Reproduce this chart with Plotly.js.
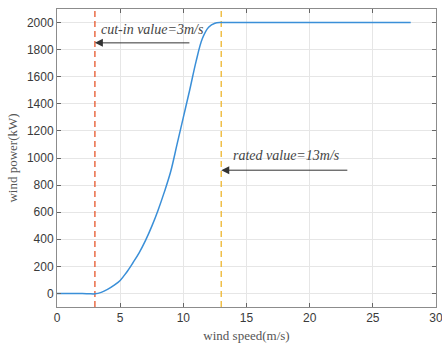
<!DOCTYPE html>
<html><head><meta charset="utf-8">
<script src="https://cdn.plot.ly/plotly-3.0.1.min.js"></script>
<style>html,body{margin:0;padding:0;background:#fff}#chart{width:442px;height:344px}</style>
</head><body><div id="chart"></div>
<script>
const windSpeed = [0,1,2,2.5,3,3.5,4,4.5,5,5.5,6,6.5,7,7.5,8,8.5,9,9.5,10,10.5,11,11.5,12,12.5,13,14,16,18,20,22,24,26,28];
const windPower = [0,0,-1,-2,-3,8,30,60,96,155,225,300,390,495,615,750,900,1100,1300,1500,1710,1880,1965,1995,2000,2000,2000,2000,2000,2000,2000,2000,2000];
const cutIn = 3, rated = 13;
const yLimits = [-100, 2100];
const xTicks = [0,5,10,15,20,25,30];
const yTicks = [0,200,400,600,800,1000,1200,1400,1600,1800,2000];
const cutInLabel = 'cut-in value=3m/s';
const ratedLabel = 'rated value=13m/s';
const cutInArrow = {fromX: 10.6, toX: 3, y: 1850, textX: 3.35, textY: 1950};
const ratedArrow = {fromX: 23.1, toX: 13, y: 910, textX: 13.8, textY: 1020};

const axisCommon = {
  showgrid: true, gridcolor: '#e6e6e6', gridwidth: 1,
  zeroline: false, showline: true, linecolor: '#8c8c8c', linewidth: 1, mirror: 'ticks',
  ticks: 'inside', ticklen: 4, tickcolor: '#666',
  ticklabeloverflow: 'allow',
  tickfont: {family: 'Liberation Sans, Arial, sans-serif', size: 12, color: '#3a3a3a'}
};

const traces = [
  {x: [cutIn, cutIn], y: yLimits, mode: 'lines', line: {color: '#e8623a', width: 1.4, dash: '6px,4px'}, hoverinfo: 'skip'},
  {x: [rated, rated], y: yLimits, mode: 'lines', line: {color: '#efbb3c', width: 1.4, dash: '6px,4px'}, hoverinfo: 'skip'},
  {x: windSpeed, y: windPower, mode: 'lines', line: {color: '#3a8fd8', width: 1.5, shape: 'spline', smoothing: 1}}
];

const layout = {
  width: 442, height: 344,
  margin: {l: 57, r: 6, t: 9, b: 37},
  showlegend: false,
  paper_bgcolor: '#fff', plot_bgcolor: '#fff',
  xaxis: Object.assign({}, axisCommon, {range: [0, 30], tickvals: xTicks,
    title: {text: 'wind speed(m/s)', standoff: 6, font: {family: 'Liberation Serif, Times New Roman, serif', size: 13, color: '#555'}}}),
  yaxis: Object.assign({}, axisCommon, {range: yLimits, tickvals: yTicks,
    title: {text: 'wind power(kW)', standoff: 6, font: {family: 'Liberation Serif, Times New Roman, serif', size: 13, color: '#555'}}}),
  annotations: [
    {x: cutInArrow.toX, y: cutInArrow.y, ax: cutInArrow.fromX, ay: cutInArrow.y, xref: 'x', yref: 'y', axref: 'x', ayref: 'y',
     text: '', showarrow: true, arrowhead: 2, arrowsize: 1.6, arrowwidth: 1, arrowcolor: '#333'},
    {x: rated, y: ratedArrow.y, ax: ratedArrow.fromX, ay: ratedArrow.y, xref: 'x', yref: 'y', axref: 'x', ayref: 'y',
     text: '', showarrow: true, arrowhead: 2, arrowsize: 1.6, arrowwidth: 1, arrowcolor: '#333'},
    {x: cutInArrow.textX, y: cutInArrow.textY, xref: 'x', yref: 'y', xanchor: 'left', yanchor: 'middle', showarrow: false,
     text: '<i>' + cutInLabel + '</i>', font: {family: 'Liberation Serif, Times New Roman, serif', size: 14, color: '#444'}},
    {x: ratedArrow.textX, y: ratedArrow.textY, xref: 'x', yref: 'y', xanchor: 'left', yanchor: 'middle', showarrow: false,
     text: '<i>' + ratedLabel + '</i>', font: {family: 'Liberation Serif, Times New Roman, serif', size: 14, color: '#444'}}
  ]
};

Plotly.newPlot('chart', traces, layout, {displayModeBar: false, staticPlot: true});
</script></body></html>
